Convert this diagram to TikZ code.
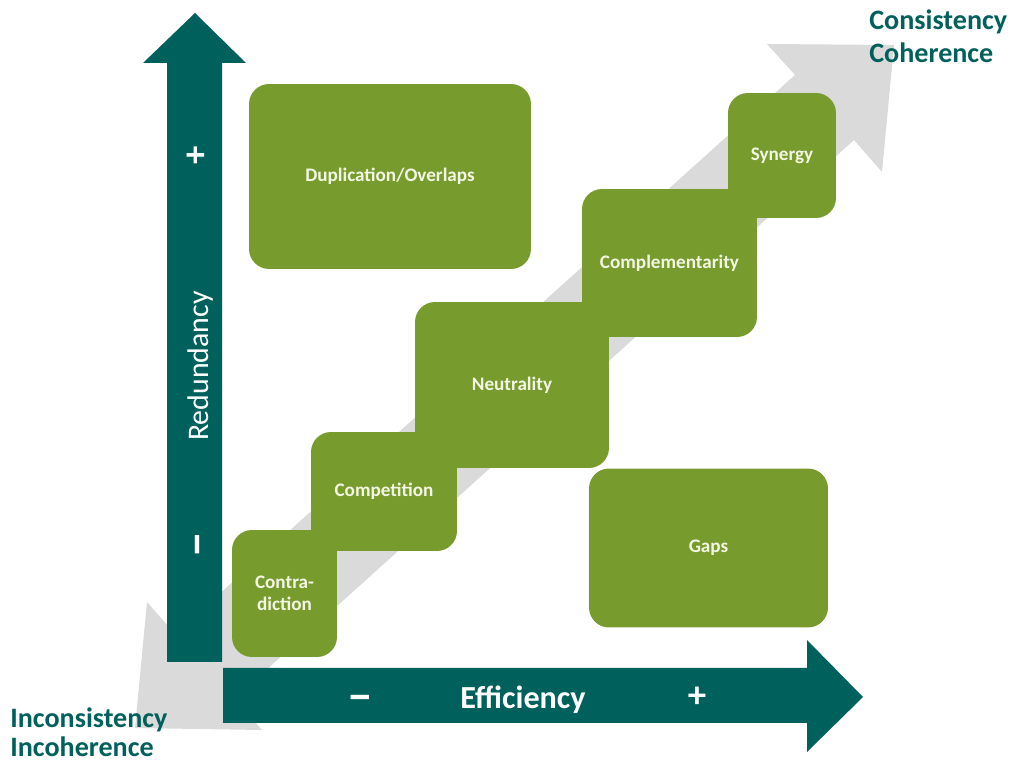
\documentclass[tikz,border=0pt]{standalone}
\usepackage{fontspec}
\setmainfont{Carlito}
\usetikzlibrary{positioning}

\definecolor{axisteal}{RGB}{0,96,92}
\definecolor{stagegreen}{RGB}{119,155,45}
\definecolor{trendgrey}{RGB}{218,218,218}
\definecolor{stagetext}{RGB}{244,246,228}

\tikzset{
  stage/.style={fill=stagegreen,rounded corners=0.4cm,text=stagetext,
    font=\bfseries\fontsize{10.9}{12.5}\selectfont,align=center,inner sep=0pt},
  axistext/.style={text=white,font=\fontsize{17}{20}\selectfont},
  signtext/.style={text=white,font=\bfseries\fontsize{21}{23}\selectfont},
  minustext/.style={text=white,font=\bfseries\fontsize{27}{29}\selectfont},
  endtext/.style={text=axisteal,font=\bfseries\fontsize{16}{19}\selectfont,anchor=base west,inner sep=0pt}
}

\begin{document}
\begin{tikzpicture}[x=0.02cm,y=-0.02cm]
      \useasboundingbox (0,0) rectangle (1012,763);
      % grey trend arrow, both ends
      \coordinate (tl) at (135,728);
      \coordinate (tr) at (894,45);
      \fill[trendgrey] (tl) -- (147,602) -- (175,634) -- (795,75) -- (767,44)
        -- (tr) -- (882,172) -- (854,140) -- (234,699) -- (262,730) -- cycle;
      % axes
      \fill[axisteal] (167,662) -- (167,63) -- (143,63) -- (195,13) -- (246,63)
        -- (222,63) -- (222,662) -- cycle;
      \fill[axisteal] (223,668) -- (807,668) -- (807,640) -- (863,697) -- (807,752)
        -- (807,723) -- (223,723) -- cycle;
      % stages
      \node[stage,minimum width=5.64cm,minimum height=3.70cm] (dup) at (390,176.5) {Duplication/Overlaps};
      \node[stage,minimum width=2.10cm,minimum height=2.54cm] (contra) at (284.5,593.5) {Contra-\\diction};
      \node[stage,minimum width=2.92cm,minimum height=2.38cm] (compet) at (384,491.5) {Competition};
      \node[stage,minimum width=3.88cm,minimum height=3.32cm] (neutral) at (512,385) {Neutrality};
      \node[stage,minimum width=3.50cm,minimum height=2.96cm] (complem) at (669.5,263) {Complementarity};
      \node[stage,minimum width=2.16cm,minimum height=2.50cm] (synergy) at (782,155.5) {Synergy};
      \node[stage,minimum width=4.78cm,minimum height=3.18cm] (gaps) at (708.5,548) {Gaps};
      % axis labels
      \node[signtext,rotate=90] (vplus) at (197,155) {+};
      \node[axistext,rotate=90] (redund) at (201,366) {Redundancy};
      \node[minustext,rotate=90] (vminus) at (204,545) {−};
      \node[minustext] (hminus) at (360,704) {−};
      \node[axistext,font=\bfseries\fontsize{18.3}{21}\selectfont] (effic) at (523,700) {Efficiency};
      \node[signtext] (hplus) at (697,697) {+};
      % ends of the trend
      \node[endtext] (consist) at (869,30) {Consistency};
      \node[endtext] (coher) at (869,63) {Coherence};
      \node[endtext] (inconsist) at (10,728) {Inconsistency};
      \node[endtext] (incoher) at (10,757) {Incoherence};
    \end{tikzpicture}
\end{document}
